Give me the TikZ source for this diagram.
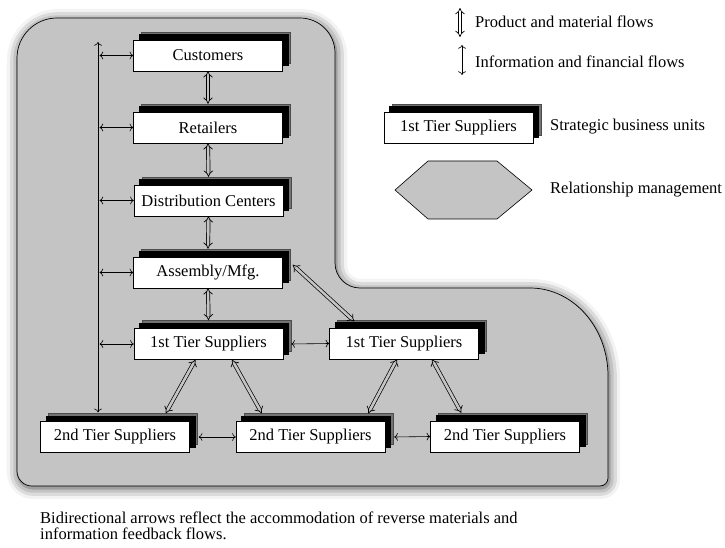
\documentclass[tikz,border=0pt]{standalone}
\usepackage{fontspec}
\setmainfont{Liberation Serif}
\usetikzlibrary{arrows.meta,shadows,shadows.blur}
\definecolor{scmgray}{gray}{0.77}

\begin{document}
\begin{tikzpicture}[x=1pt,y=1pt,
	sbu/.style={draw=black, fill=white, minimum width=149pt, minimum height=31pt, inner sep=0pt,
		font=\fontsize{16.5}{19}\selectfont,
		copy shadow={shadow xshift=8pt, shadow yshift=8pt, fill=black!55, draw=black!70},
		copy shadow={shadow xshift=5.5pt, shadow yshift=5.5pt, fill=black, draw=black}},
	txt/.style={anchor=west, inner sep=0pt, font=\fontsize{16.5}{19}\selectfont},
	captxt/.style={anchor=base west, inner sep=0pt, font=\fontsize{16.5}{19}\selectfont},
	prod/.style={double=scmgray, double distance=2.6pt, line width=0.7pt, {Implies}-{Implies}},
	info/.style={line width=0.6pt, {To[scale=1.25]}-{To[scale=1.25]}}]
	\useasboundingbox (0,0) rectangle (725,547);
	\path[fill=scmgray, draw=black, line width=0.7pt,
		blur shadow={shadow xshift=1pt, shadow yshift=-2pt, shadow blur radius=11pt, shadow opacity=75}]
		(17,76) -- (17,489) arc(180:90:40pt) -- (300,529) arc(90:0:35pt) -- (335,284)
		arc(180:270:25pt) -- (530,259) arc(90:0:78pt and 88pt) -- (608,69) arc(0:-90:8pt)
		-- (32,61) arc(270:180:15pt) -- cycle;
	\node[sbu] (cust) at (208,491.5) {Customers};
	\node[sbu] (ret) at (208,419.5) {Retailers};
	\node[sbu] (dc) at (208.5,346.5) {Distribution Centers};
	\node[sbu] (asm) at (208,274.5) {Assembly/Mfg.};
	\node[sbu] (tonea) at (208.5,203) {1st Tier Suppliers};
	\node[sbu] (toneb) at (404,203.5) {1st Tier Suppliers};
	\node[sbu] (ttwoa) at (115,110) {2nd Tier Suppliers};
	\node[sbu] (ttwob) at (310.5,110) {2nd Tier Suppliers};
	\node[sbu] (ttwoc) at (505,110.5) {2nd Tier Suppliers};
	\coordinate (vtop) at (98,505);
	\draw[info] (vtop) -- ([yshift=9pt]vtop |- ttwoa.north);
	\foreach \n in {cust,ret,dc,asm,tonea}
		\draw[info] ([xshift=1.5pt]vtop |- \n.west) -- (\n.west);
	\draw[prod] (cust.south) -- ([yshift=8pt]ret.north);
	\draw[prod] (ret.south) -- ([yshift=8pt]dc.north);
	\draw[prod] (dc.south) -- ([yshift=8pt]asm.north);
	\draw[prod] (asm.south) -- ([yshift=8pt]tonea.north);
	\draw[prod] ([xshift=10pt,yshift=-8pt]asm.north east) -- ([xshift=25pt,yshift=6.5pt]toneb.north west);
	\draw[info] ([xshift=8pt]tonea.east) -- (toneb.west);
	\draw[prod] ([xshift=-13pt]tonea.south) -- ([xshift=-24pt,yshift=8pt]ttwoa.north east);
	\draw[prod] ([xshift=23.5pt]tonea.south) -- ([xshift=26pt,yshift=8pt]ttwob.north west);
	\draw[prod] ([xshift=-7pt]toneb.south) -- ([xshift=-17pt,yshift=8pt]ttwob.north east);
	\draw[prod] ([xshift=28pt]toneb.south) -- ([xshift=31pt,yshift=8pt]ttwoc.north west);
	\draw[info] ([xshift=9pt]ttwoa.east) -- (ttwob.west);
	\draw[info] ([xshift=9pt]ttwob.east) -- (ttwoc.west);
	\coordinate (pa) at (460,539);
	\coordinate (pb) at (460,510);
	\draw[prod, double=white] (pa) -- (pb);
	\node[txt] (ptxt) at (475,525) {Product and material flows};
	\coordinate (ia) at (462,502);
	\coordinate (ib) at (462,472);
	\draw[info] (ia) -- (ib);
	\node[txt] (itxt) at (475,485) {Information and financial flows};
	\node[sbu] (lgbox) at (458.5,419.5) {1st Tier Suppliers};
	\node[txt] (stxt) at (550,420) {Strategic business units};
	\draw[fill=scmgray, line width=0.6pt] (395,357) -- (428,386) -- (497,386) -- (532,357) -- (497,328) -- (428,328) -- cycle;
	\node[txt] (rtxt) at (550,357) {Relationship management};
	\node[captxt] (capa) at (40,24) {Bidirectional arrows reflect the accommodation of reverse materials and};
	\node[captxt] (capb) at (40,8) {information feedback flows.};
\end{tikzpicture}
\end{document}
